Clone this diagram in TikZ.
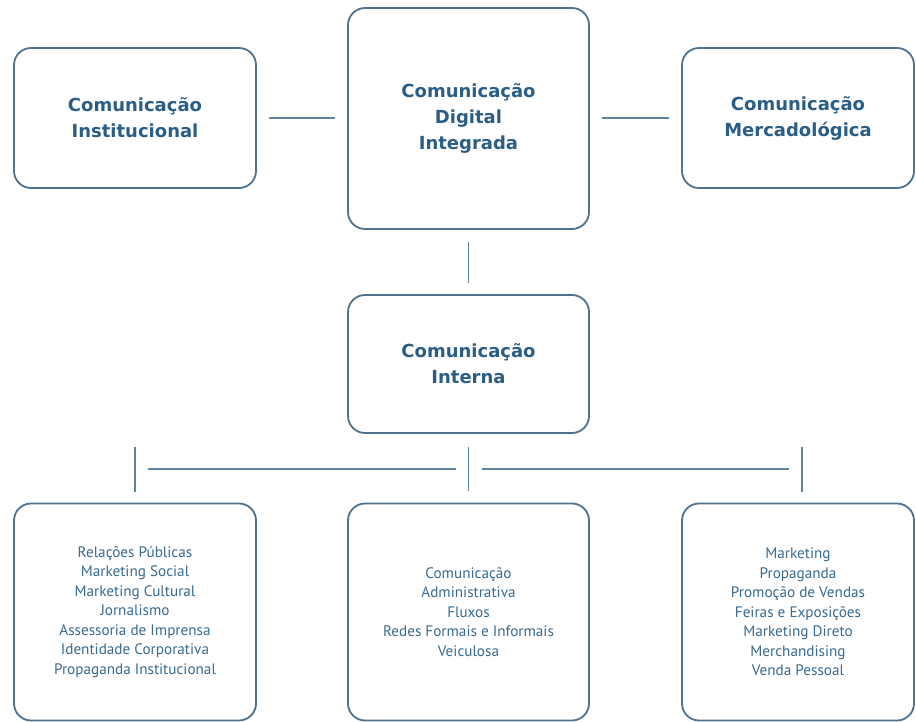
\documentclass[tikz,border=0pt]{standalone}
\usepackage{fontspec}
\newfontfamily\titlefont{DejaVu Sans}
\newfontfamily\listfont{PT Sans}
\definecolor{boxline}{HTML}{4E7390}
\definecolor{conline}{HTML}{5F849E}
\definecolor{titletext}{HTML}{2A5E86}
\definecolor{listtext}{HTML}{386A92}
\begin{document}
\begin{tikzpicture}[x=1pt,y=-1pt,
  box/.style={draw=boxline,line width=1.8pt,rounded corners=17pt,fill=white,
    minimum width=242pt,inner sep=0pt,align=center},
  titlebox/.style={box,text=titletext,font=\titlefont\bfseries\fontsize{18}{26}\selectfont},
  listbox/.style={box,text=listtext,font=\listfont\fontsize{15.2}{19.5}\selectfont,minimum height=217pt},
  conn/.style={draw=conline,line width=1.8pt}]
\useasboundingbox (0,0) rectangle (916,722);
\node[titlebox,minimum height=140pt] (inst) at (135,118) {Comunicação\\Institucional};
\node[titlebox,minimum width=241pt,minimum height=221pt] (dig) at (468.5,118.5) {Comunicação\\Digital\\Integrada};
\node[titlebox,minimum width=232pt,minimum height=140pt] (merc) at (798,118) {Comunicação\\Mercadológica};
\node[titlebox,minimum width=241pt,minimum height=138pt] (int) at (468.5,364) {Comunicação\\Interna};
\node[listbox] (bl) at (135,612) {Relações Públicas\\Marketing Social\\Marketing Cultural\\Jornalismo\\Assessoria de Imprensa\\Identidade Corporativa\\Propaganda Institucional};
\node[listbox,minimum width=241pt] (bm) at (468.5,612) {Comunicação\\Administrativa\\Fluxos\\Redes Formais e Informais\\Veiculosa};
\node[listbox,minimum width=232pt] (br) at (798,612) {Marketing\\Propaganda\\Promoção de Vendas\\Feiras e Exposições\\Marketing Direto\\Merchandising\\Venda Pessoal};
% top connectors
\draw[conn,shorten <=12pt,shorten >=12pt] (inst.east) -- (dig.west |- inst.east);
\draw[conn,shorten <=12pt,shorten >=12pt] (dig.east |- merc.west) -- (merc.west);
\draw[conn,shorten <=12pt,shorten >=11pt] (dig.south) -- (int.north);
% bottom connectors
\coordinate (vl) at (135,503.5);
\coordinate (vr) at (802,503.5);
\coordinate (hl) at (148,469);
\coordinate (hm) at (456,469);
\coordinate (hn) at (482,469);
\coordinate (hr) at (789,469);
\draw[conn,shorten <=12pt,shorten >=13pt] (vl) -- (vl |- int.south);
\draw[conn,shorten <=12pt,shorten >=13pt] (bm.north) -- (int.south);
\draw[conn,shorten <=12pt,shorten >=13pt] (vr) -- (vr |- int.south);
\draw[conn] (hl) -- (hm);
\draw[conn] (hn) -- (hr);
\end{tikzpicture}
\end{document}
